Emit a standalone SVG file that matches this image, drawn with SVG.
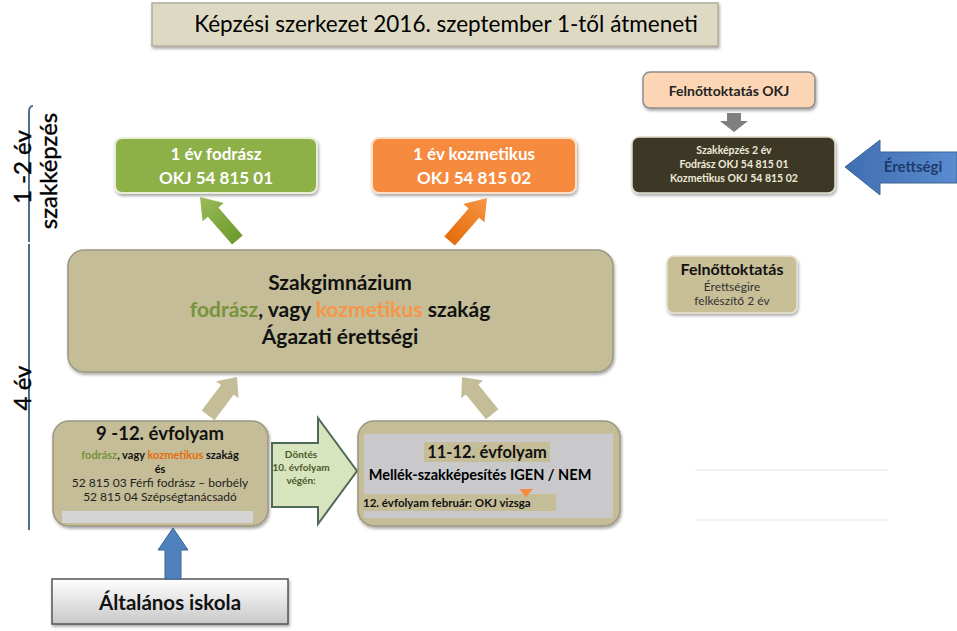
<svg xmlns="http://www.w3.org/2000/svg" width="957" height="631" viewBox="0 0 957 631">
<defs>
<filter id="sh" x="-10%" y="-10%" width="130%" height="140%"><feDropShadow dx="1" dy="2" stdDeviation="1.5" flood-color="#000" flood-opacity="0.35"/></filter>
<linearGradient id="gGreen" x1="0" y1="0" x2="0" y2="1"><stop offset="0" stop-color="#9bbb59"/><stop offset="1" stop-color="#6e9a2e"/></linearGradient>
<linearGradient id="gOrange" x1="0" y1="0" x2="0" y2="1"><stop offset="0" stop-color="#f79646"/><stop offset="1" stop-color="#e46c0a"/></linearGradient>
<linearGradient id="gGray" x1="0" y1="0" x2="0" y2="1"><stop offset="0" stop-color="#ffffff"/><stop offset="1" stop-color="#c8c8c8"/></linearGradient>
<linearGradient id="gBlue" x1="0" y1="0" x2="1" y2="0"><stop offset="0" stop-color="#3f6fb0"/><stop offset="1" stop-color="#5b8bd0"/></linearGradient>
</defs>
<style>
text{font-family:Lato,"Open Sans","Liberation Sans",sans-serif;text-anchor:middle}
.b{font-weight:bold}
.tan{fill:#c4bd97;stroke:#9c9780;stroke-width:1.5}
.w{fill:#fff}
.gr{fill:#77933c}
.or{fill:#f79646}
.brk{stroke:#4a6f8f;stroke-width:2;fill:none}
</style>
<rect width="957" height="631" fill="#fff"/>

<g id="title">
<rect x="152" y="3" width="566" height="43" fill="#ddd9c3" stroke="#b0ad9a" stroke-width="1.5" filter="url(#sh)"/>
<text x="446" y="32" font-size="22.5" fill="#000">Képzési  szerkezet  2016. szeptember  1-től átmeneti</text>
</g>

<g id="side-labels">
<path class="brk" d="M33,106 Q29,106 29,112 L29,242"/>
<path class="brk" d="M29,244 L29,530"/>
<text transform="translate(31,167) rotate(-90)" font-size="24" fill="#000" stroke="#000" stroke-width="0.4">1 -2 év</text>
<text transform="translate(57,171) rotate(-90)" font-size="24" fill="#000" stroke="#000" stroke-width="0.4">szakképzés</text>
<text transform="translate(31,388) rotate(-90)" font-size="24" fill="#000" stroke="#000" stroke-width="0.4">4 év</text>
</g>

<g id="fodrasz">
<rect x="115" y="138" width="202" height="55" rx="7" fill="#8db048" stroke="#e8efd8" stroke-width="2" filter="url(#sh)"/>
<text x="216" y="160" font-size="17" class="b w">1 év fodrász</text>
<text x="216" y="184" font-size="17" class="b w">OKJ 54 815 01</text>
</g>

<g id="kozmetikus">
<rect x="372" y="138" width="204" height="55" rx="7" fill="#f68b40" stroke="#fde0c8" stroke-width="2" filter="url(#sh)"/>
<text x="474" y="160" font-size="17" class="b w">1 év kozmetikus</text>
<text x="474" y="184" font-size="17" class="b w">OKJ 54 815 02</text>
</g>

<g id="felnott-okj">
<rect x="643" y="72" width="172" height="36" rx="7" fill="#fcd5b5" stroke="#8c8c8c" stroke-width="1.5" filter="url(#sh)"/>
<text x="729" y="96" font-size="14" fill="#222" class="b">Felnőttoktatás OKJ</text>
</g>

<g id="szakkepzes-2ev">
<rect x="632" y="137" width="203" height="56" rx="7" fill="#3d3925" stroke="#e0dccc" stroke-width="1.5" filter="url(#sh)"/>
<text x="734" y="154" font-size="10.5" fill="#eeead8" class="b">Szakképzés 2 év</text>
<text x="734" y="168" font-size="10.5" fill="#eeead8" class="b">Fodrász OKJ 54 815  01</text>
<text x="734" y="182" font-size="10.5" fill="#eeead8" class="b">Kozmetikus OKJ 54 815  02</text>
</g>

<g id="felnott-erettsegi">
<rect x="667" y="256" width="130" height="57" rx="7" fill="#c8bf97" stroke="#e6e2d2" stroke-width="1.5" filter="url(#sh)"/>
<text x="732" y="275" font-size="16" fill="#111" class="b">Felnőttoktatás</text>
<text x="732" y="291" font-size="12" fill="#333">Érettségire</text>
<text x="732" y="305" font-size="12" fill="#333">felkészítő 2 év</text>
</g>

<g id="szakgimnazium">
<rect x="68" y="250" width="545" height="122" rx="16" class="tan" filter="url(#sh)"/>
<text x="340" y="290" font-size="21" fill="#111" class="b">Szakgimnázium</text>
<text x="340" y="317" font-size="21" fill="#111" class="b"><tspan class="gr">fodrász</tspan>, vagy  <tspan class="or">kozmetikus</tspan> szakág</text>
<text x="340" y="344" font-size="21" fill="#111" class="b">Ágazati érettségi</text>
</g>

<g id="evf-9-12">
<rect x="53" y="421" width="215" height="105" rx="16" class="tan" filter="url(#sh)"/>
<rect x="62" y="511" width="191" height="12" fill="#d4d4d4"/>
<text x="160" y="440" font-size="18.5" fill="#111" class="b">9 -12. évfolyam</text>
<text x="160" y="459" font-size="11" fill="#111" class="b"><tspan class="gr">fodrász</tspan>, vagy  <tspan fill="#e46c0a">kozmetikus</tspan> szakág</text>
<text x="160" y="473" font-size="11" fill="#111" class="b">és</text>
<text x="160" y="487" font-size="12" fill="#222">52 815 03 Férfi fodrász – borbély</text>
<text x="160" y="501" font-size="12" fill="#222">52 815 04 Szépségtanácsadó</text>
</g>

<g id="dontes">
<path d="M272,443 L318,443 L318,418 L357,471 L318,524 L318,507 L272,507 Z" fill="#d7e4bd" stroke="#4f6a5a" stroke-width="2"/>
<text x="301" y="458" font-size="10" fill="#4a5a2a" class="b">Döntés</text>
<text x="301" y="471" font-size="10" fill="#4a5a2a" class="b">10. évfolyam</text>
<text x="301" y="484" font-size="10" fill="#4a5a2a" class="b">végén:</text>
</g>

<g id="evf-11-12">
<rect x="358" y="421" width="262" height="105" rx="16" class="tan" filter="url(#sh)"/>
<rect x="364" y="434" width="249" height="84" fill="#c9c9cc"/>
<rect x="424" y="442" width="126" height="20" fill="#c4bd97"/>
<rect x="362" y="494" width="194" height="17" fill="#c4bd97"/>
<text x="487" y="458" font-size="16.5" fill="#111" class="b">11-12. évfolyam</text>
<text x="480" y="480" font-size="14.5" fill="#000" class="b">Mellék-szakképesítés IGEN / NEM</text>
<path d="M519,489 L533,489 L526,497 Z" fill="#f68b40"/>
<text x="363" y="507" font-size="11.5" fill="#111" class="b" style="text-anchor:start">12. évfolyam február: OKJ vizsga</text>
</g>

<g id="altalanos">
<rect x="52" y="579" width="236" height="45" fill="url(#gGray)" stroke="#555" stroke-width="1.5" filter="url(#sh)"/>
<text x="170" y="610" font-size="20.5" fill="#111" class="b">Általános iskola</text>
</g>

<g id="connectors">
<path transform="translate(200,197) rotate(-41)" d="M0,0 L14,20 L7,20 L7,57 L-7,57 L-7,20 L-14,20 Z" fill="url(#gGreen)"/>
<path transform="translate(487,198) rotate(41)" d="M0,0 L14,20 L7,20 L7,57 L-7,57 L-7,20 L-14,20 Z" fill="url(#gOrange)"/>
<path transform="translate(237,377) rotate(37)" d="M0,0 L14,16 L8,16 L8,48 L-8,48 L-8,16 L-14,16 Z" fill="#c4bd97"/>
<path transform="translate(462,377) rotate(-39)" d="M0,0 L14,16 L8,16 L8,48 L-8,48 L-8,16 L-14,16 Z" fill="#c4bd97"/>
<path d="M727,113 L741,113 L741,121 L748,121 L734,132 L720,121 L727,121 Z" fill="#7f7f7f"/>
<path d="M173,528 L188,550 L181,550 L181,579 L165,579 L165,550 L158,550 Z" fill="#4f81bd" stroke="#3a6496" stroke-width="1"/>
<path d="M845,167 L880,140 L880,152 L957,152 L957,183 L880,183 L880,195 Z" fill="url(#gBlue)" stroke="#3a6496" stroke-width="1"/>
<text x="913" y="172" font-size="15" fill="#1f3b6b" class="b">Érettségi</text>
<line x1="695" y1="470" x2="888" y2="470" stroke="#f3f3f3" stroke-width="2"/>
<line x1="695" y1="520" x2="888" y2="520" stroke="#f3f3f3" stroke-width="2"/>
</g>
</svg>
